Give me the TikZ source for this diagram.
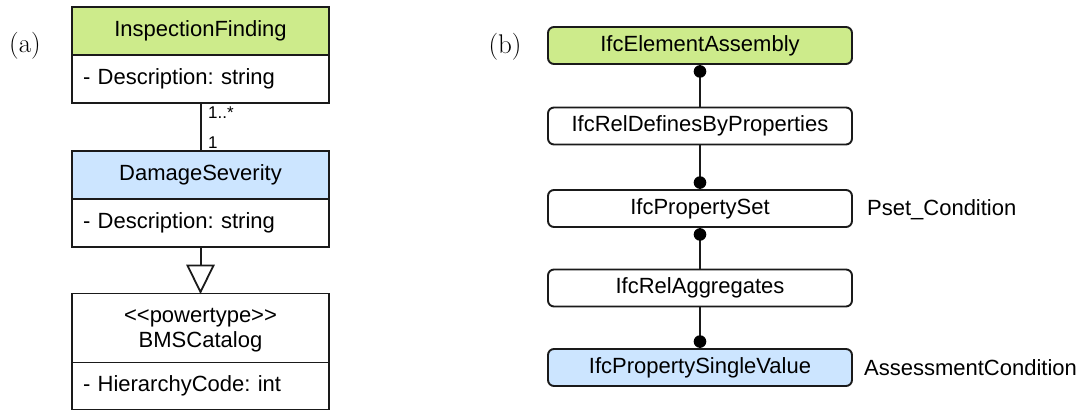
\documentclass[tikz,border=0pt]{standalone}
\usepackage{fontspec}
\usetikzlibrary{calc}
\newfontfamily\uifont{Liberation Sans}
\definecolor{umlgreen}{HTML}{CDEB8B}
\definecolor{umlblue}{HTML}{CCE5FF}
\definecolor{edge}{HTML}{1A1A1A}
\frenchspacing
\begin{document}
\begin{tikzpicture}[x=1pt,y=-1pt,
  every node/.style={font=\uifont\fontsize{22}{26}\selectfont, text=black},
  panel/.style={font=\fontsize{27}{32}\selectfont, inner sep=0pt},
  classhead/.style={draw=edge, line width=1.9pt, outer sep=0pt, minimum width=257pt, minimum height=48pt, inner sep=0pt, align=center},
  classattr/.style={draw=edge, line width=1.9pt, outer sep=0pt, minimum height=48pt, text width=235pt, inner xsep=11pt, inner ysep=0pt, align=left},
  ifcbox/.style={draw=edge, line width=1.9pt, rounded corners=6pt, minimum width=304pt, minimum height=37pt, inner sep=0pt},
  link/.style={draw=edge, line width=2pt},
  mult/.style={font=\uifont\fontsize{17}{20}\selectfont, anchor=west, inner sep=0pt},
  side/.style={anchor=west, inner sep=0pt},
  knob/.style={fill=black, draw=none}
]
\useasboundingbox (0,0) rectangle (1082,412);

% panel labels
\node[panel] (la) at (25,46) {(a)};
\node[panel] (lb) at (505,47) {(b)};

% ---- (a) UML classes ----
\node[classhead, fill=umlgreen] (ifh) at (200.5,31) {InspectionFinding};
\node[classattr, fill=white, anchor=north] (ifa) at (ifh.south) {- Description: string};

\node[classhead, fill=umlblue] (dsh) at (200.5,175) {DamageSeverity};
\node[classattr, fill=white, anchor=north] (dsa) at (dsh.south) {- Description: string};

\node[classhead, fill=white, minimum height=69pt, text depth=0pt] (bmh) at (200.5,328)
  {<<powertype>>\\[-1pt]BMSCatalog};
\node[classattr, fill=white, anchor=north, minimum height=47pt] (bma) at (bmh.south) {- HierarchyCode: int};

% association with multiplicities
\draw[link] (ifa.south) -- (dsh.north);
\node[mult] (m1) at (208,113) {1..*};
\node[mult] (m2) at (208,143) {1};

% generalization (hollow triangle)
\coordinate (tb) at ($(bmh.north)+(0,-28)$);
\draw[link] (dsa.south) -- (tb);
\draw[draw=edge, line width=1.8pt, fill=white, line join=miter]
  ($(tb)+(-13,0)$) -- ($(tb)+(13,0)$) -- ($(bmh.north)+(0,-1.5)$) -- cycle;

% ---- (b) IFC objects ----
\node[ifcbox, fill=umlgreen] (ea) at (700,45.5) {IfcElementAssembly};
\node[ifcbox, fill=white] (rd) at (700,126) {IfcRelDefinesByProperties};
\node[ifcbox, fill=white] (ps) at (700,208.5) {IfcPropertySet};
\node[ifcbox, fill=white] (ra) at (700,288) {IfcRelAggregates};
\node[ifcbox, fill=umlblue] (sv) at (700,367.5) {IfcPropertySingleValue};

\node[side] (psl) at ($(ps.east)+(14,1)$) {Pset\_Condition};
\node[side] (svl) at ($(sv.east)+(11,0)$) {AssessmentCondition};

\draw[link] (ea.south) -- (rd.north);
\draw[link] (rd.south) -- (ps.north);
\draw[link] (ps.south) -- (ra.north);
\draw[link] (ra.south) -- (sv.north);

\fill[knob] ($(ea.south)+(0,6.5)$) circle (6.3);
\fill[knob] ($(ps.north)+(0,-6.5)$) circle (6.3);
\fill[knob] ($(ps.south)+(0,6.5)$) circle (6.3);
\fill[knob] ($(sv.north)+(0,-6.5)$) circle (6.3);
\end{tikzpicture}
\end{document}
